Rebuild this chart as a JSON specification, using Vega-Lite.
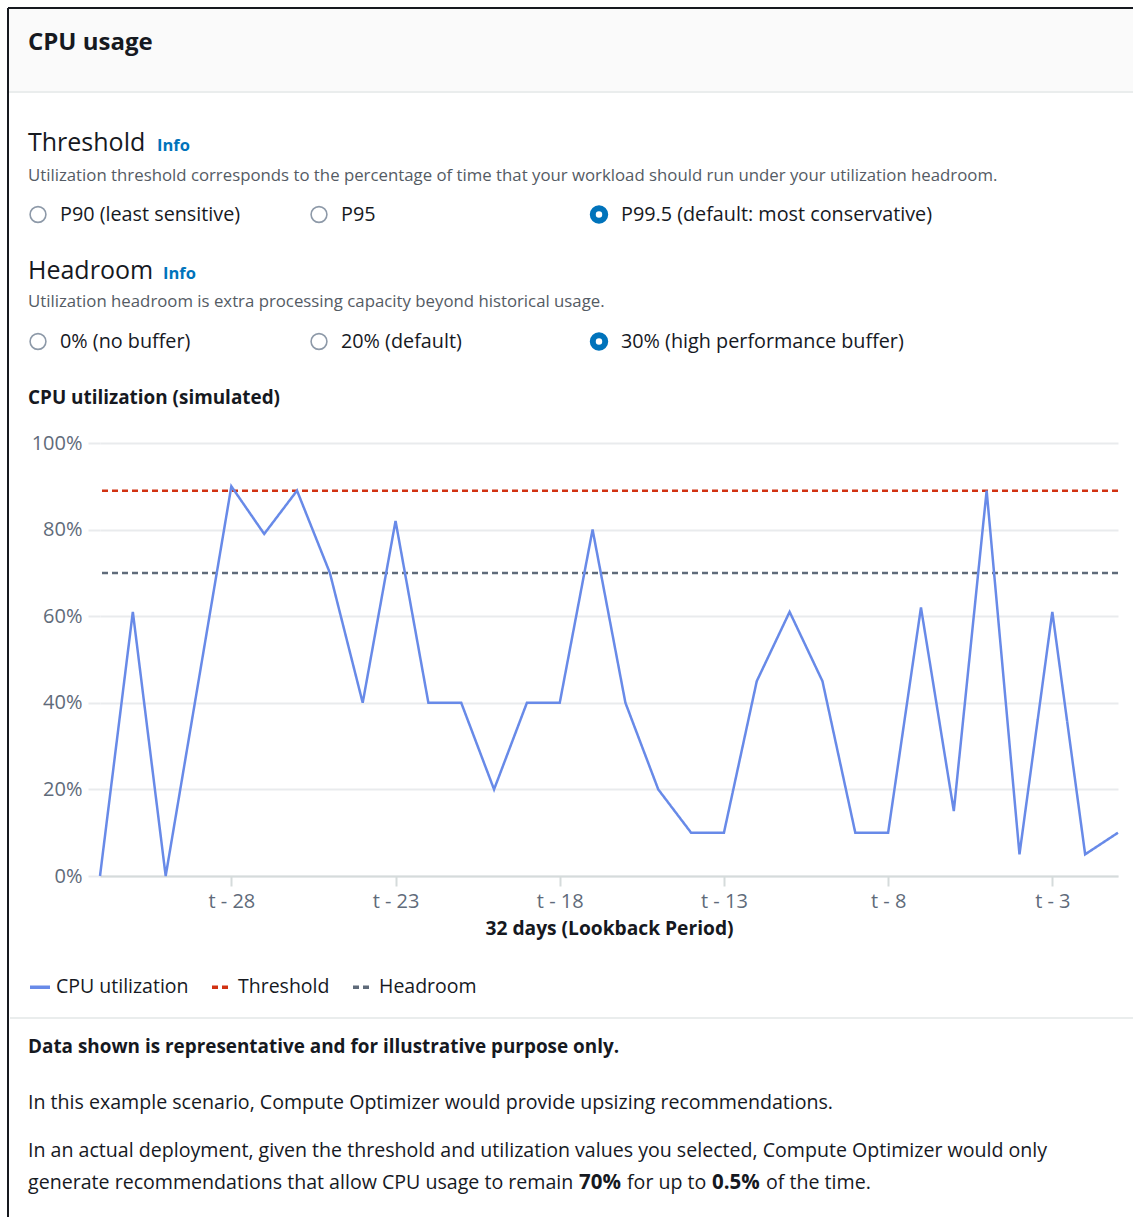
{
  "$schema": "https://vega.github.io/schema/vega-lite/v6.json",
  "width": 1018,
  "height": 433,
  "autosize": "none",
  "padding": {"left": 100, "top": 443, "right": 15, "bottom": 341},
  "background": "white",
  "config": {"view": {"stroke": null}, "font": "Open Sans"},
  "datasets": {
    "cpu": [
      {"day": -32, "cpu": 0, "series": "CPU utilization"},
      {"day": -31, "cpu": 61, "series": "CPU utilization"},
      {"day": -30, "cpu": 0, "series": "CPU utilization"},
      {"day": -29, "cpu": 45, "series": "CPU utilization"},
      {"day": -28, "cpu": 90, "series": "CPU utilization"},
      {"day": -27, "cpu": 79, "series": "CPU utilization"},
      {"day": -26, "cpu": 89, "series": "CPU utilization"},
      {"day": -25, "cpu": 70, "series": "CPU utilization"},
      {"day": -24, "cpu": 40, "series": "CPU utilization"},
      {"day": -23, "cpu": 82, "series": "CPU utilization"},
      {"day": -22, "cpu": 40, "series": "CPU utilization"},
      {"day": -21, "cpu": 40, "series": "CPU utilization"},
      {"day": -20, "cpu": 20, "series": "CPU utilization"},
      {"day": -19, "cpu": 40, "series": "CPU utilization"},
      {"day": -18, "cpu": 40, "series": "CPU utilization"},
      {"day": -17, "cpu": 80, "series": "CPU utilization"},
      {"day": -16, "cpu": 40, "series": "CPU utilization"},
      {"day": -15, "cpu": 20, "series": "CPU utilization"},
      {"day": -14, "cpu": 10, "series": "CPU utilization"},
      {"day": -13, "cpu": 10, "series": "CPU utilization"},
      {"day": -12, "cpu": 45, "series": "CPU utilization"},
      {"day": -11, "cpu": 61, "series": "CPU utilization"},
      {"day": -10, "cpu": 45, "series": "CPU utilization"},
      {"day": -9, "cpu": 10, "series": "CPU utilization"},
      {"day": -8, "cpu": 10, "series": "CPU utilization"},
      {"day": -7, "cpu": 62, "series": "CPU utilization"},
      {"day": -6, "cpu": 15, "series": "CPU utilization"},
      {"day": -5, "cpu": 89, "series": "CPU utilization"},
      {"day": -4, "cpu": 5, "series": "CPU utilization"},
      {"day": -3, "cpu": 61, "series": "CPU utilization"},
      {"day": -2, "cpu": 5, "series": "CPU utilization"},
      {"day": -1, "cpu": 10, "series": "CPU utilization"}
    ],
    "levels": [
      {"series": "Threshold", "value": 89},
      {"series": "Headroom", "value": 70}
    ],
    "chrome": [
      {"kind": "headerbg", "col": 0, "col2": 5, "line": 0, "line2": 1},
      {"kind": "sep", "col": 0, "col2": 5, "line": 1, "line2": 1},
      {"kind": "sep", "col": 12, "col2": 5, "line": 10, "line2": 10},
      {"kind": "frame", "col": 0, "col2": 5, "line": 0, "line2": 0},
      {"kind": "frame", "col": 0, "col2": 0, "line": 0, "line2": 15}
    ],
    "radios": [
      {"text": "P90 (least sensitive)", "col": 2, "line": 5, "selected": "no"},
      {"text": "P95", "col": 3, "line": 5, "selected": "no"},
      {"text": "P99.5 (default: most conservative)", "col": 4, "line": 5, "selected": "yes"},
      {"text": "0% (no buffer)", "col": 2, "line": 8, "selected": "no"},
      {"text": "20% (default)", "col": 3, "line": 8, "selected": "no"},
      {"text": "30% (high performance buffer)", "col": 4, "line": 8, "selected": "yes"}
    ],
    "texts": [
      {"text": "CPU usage", "role": "title", "col": 1, "line": 2},
      {"text": "Threshold", "role": "heading", "col": 1, "line": 3},
      {"text": "Info", "role": "info", "col": 6, "line": 3},
      {"text": "Utilization threshold corresponds to the percentage of time that your workload should run under your utilization headroom.", "role": "desc", "col": 1, "line": 4},
      {"text": "Headroom", "role": "heading", "col": 1, "line": 6},
      {"text": "Info", "role": "info", "col": 7, "line": 6},
      {"text": "Utilization headroom is extra processing capacity beyond historical usage.", "role": "desc", "col": 1, "line": 7},
      {"text": "CPU utilization (simulated)", "role": "subtitle", "col": 1, "line": 9},
      {"text": "Data shown is representative and for illustrative purpose only.", "role": "subtitle", "col": 1, "line": 11},
      {"text": "In this example scenario, Compute Optimizer would provide upsizing recommendations.", "role": "note", "col": 1, "line": 12},
      {"text": "In an actual deployment, given the threshold and utilization values you selected, Compute Optimizer would only", "role": "note", "col": 1, "line": 13},
      {"text": "generate recommendations that allow CPU usage to remain", "role": "note", "col": 1, "line": 14},
      {"text": "70%", "role": "strong", "col": 8, "line": 14},
      {"text": "for up to", "role": "note", "col": 9, "line": 14},
      {"text": "0.5%", "role": "strong", "col": 10, "line": 14},
      {"text": "of the time.", "role": "note", "col": 11, "line": 14}
    ]
  },
  "layer": [
    {
      "layer": [
        {
          "data": {"name": "chrome"},
          "transform": [{"filter": "datum.kind == 'headerbg'"}],
          "mark": {"type": "rect", "color": "#fafafa"},
          "encoding": {
            "x": {"field": "col", "type": "quantitative", "axis": null, "scale": {"domain": [0,1,2,3,4,5,6,7,8,9,10,11,12], "range": [-92,-72,-62,219,499,1033,57,63,479,527,612,666,-90], "zero": false, "nice": false}},
            "x2": {"field": "col2"},
            "y": {"field": "line", "type": "quantitative", "axis": null, "scale": {"domain": [0,1,2,3,4,5,6,7,8,9,10,11,12,13,14,15], "range": [-435,-351,-393,-292,-262.5,-228.5,-164,-136.5,-101.5,-39,575,610,666,714,746,774], "zero": false, "nice": false}},
            "y2": {"field": "line2"}
          }
        },
        {
          "data": {"name": "chrome"},
          "transform": [{"filter": "datum.kind == 'sep'"}],
          "mark": {"type": "rule", "color": "#eaeded", "strokeWidth": 2},
          "encoding": {
            "x": {"field": "col", "type": "quantitative", "axis": null},
            "x2": {"field": "col2"},
            "y": {"field": "line", "type": "quantitative", "axis": null},
            "y2": {"field": "line2"}
          }
        },
        {
          "data": {"name": "chrome"},
          "transform": [{"filter": "datum.kind == 'frame'"}],
          "mark": {"type": "rule", "color": "#16191f", "strokeWidth": 2},
          "encoding": {
            "x": {"field": "col", "type": "quantitative", "axis": null},
            "x2": {"field": "col2"},
            "y": {"field": "line", "type": "quantitative", "axis": null},
            "y2": {"field": "line2"}
          }
        },
        {
          "data": {"name": "radios"},
          "transform": [{"filter": "datum.selected == 'no'"}],
          "mark": {"type": "point", "shape": "circle", "filled": false, "fill": "white", "stroke": "#8d99a8", "strokeWidth": 1.6, "size": 250, "opacity": 1},
          "encoding": {
            "x": {"field": "col", "type": "quantitative", "axis": null},
            "y": {"field": "line", "type": "quantitative", "axis": null}
          }
        },
        {
          "data": {"name": "radios"},
          "transform": [{"filter": "datum.selected == 'yes'"}],
          "mark": {"type": "point", "shape": "circle", "filled": false, "fill": "white", "stroke": "#0073bb", "strokeWidth": 6, "size": 155, "opacity": 1},
          "encoding": {
            "x": {"field": "col", "type": "quantitative", "axis": null},
            "y": {"field": "line", "type": "quantitative", "axis": null}
          }
        },
        {
          "data": {"name": "radios"},
          "mark": {"type": "text", "align": "left", "baseline": "middle", "dx": 22, "fontSize": 19.8, "color": "#16191f"},
          "encoding": {
            "x": {"field": "col", "type": "quantitative", "axis": null},
            "y": {"field": "line", "type": "quantitative", "axis": null},
            "text": {"field": "text"}
          }
        },
        {
          "data": {"name": "texts"},
          "transform": [{"filter": "datum.role == 'title'"}],
          "mark": {"type": "text", "align": "left", "baseline": "alphabetic", "fontSize": 24, "fontWeight": "bold", "color": "#16191f"},
          "encoding": {
            "x": {"field": "col", "type": "quantitative", "axis": null},
            "y": {"field": "line", "type": "quantitative", "axis": null},
            "text": {"field": "text"}
          }
        },
        {
          "data": {"name": "texts"},
          "transform": [{"filter": "datum.role == 'heading'"}],
          "mark": {"type": "text", "align": "left", "baseline": "alphabetic", "fontSize": 25, "color": "#16191f"},
          "encoding": {
            "x": {"field": "col", "type": "quantitative", "axis": null},
            "y": {"field": "line", "type": "quantitative", "axis": null},
            "text": {"field": "text"}
          }
        },
        {
          "data": {"name": "texts"},
          "transform": [{"filter": "datum.role == 'info'"}],
          "mark": {"type": "text", "align": "left", "baseline": "alphabetic", "fontSize": 16.5, "fontWeight": "bold", "color": "#0073bb"},
          "encoding": {
            "x": {"field": "col", "type": "quantitative", "axis": null},
            "y": {"field": "line", "type": "quantitative", "axis": null},
            "text": {"field": "text"}
          }
        },
        {
          "data": {"name": "texts"},
          "transform": [{"filter": "datum.role == 'desc'"}],
          "mark": {"type": "text", "align": "left", "baseline": "alphabetic", "fontSize": 16.8, "color": "#545b64"},
          "encoding": {
            "x": {"field": "col", "type": "quantitative", "axis": null},
            "y": {"field": "line", "type": "quantitative", "axis": null},
            "text": {"field": "text"}
          }
        },
        {
          "data": {"name": "texts"},
          "transform": [{"filter": "datum.role == 'subtitle'"}],
          "mark": {"type": "text", "align": "left", "baseline": "alphabetic", "fontSize": 18.9, "fontWeight": "bold", "color": "#16191f"},
          "encoding": {
            "x": {"field": "col", "type": "quantitative", "axis": null},
            "y": {"field": "line", "type": "quantitative", "axis": null},
            "text": {"field": "text"}
          }
        },
        {
          "data": {"name": "texts"},
          "transform": [{"filter": "datum.role == 'strong'"}],
          "mark": {"type": "text", "align": "left", "baseline": "alphabetic", "fontSize": 20.5, "fontWeight": "bold", "color": "#16191f"},
          "encoding": {
            "x": {"field": "col", "type": "quantitative", "axis": null},
            "y": {"field": "line", "type": "quantitative", "axis": null},
            "text": {"field": "text"}
          }
        },
        {
          "data": {"name": "texts"},
          "transform": [{"filter": "datum.role == 'note'"}],
          "mark": {"type": "text", "align": "left", "baseline": "alphabetic", "fontSize": 19.6, "color": "#16191f"},
          "encoding": {
            "x": {"field": "col", "type": "quantitative", "axis": null},
            "y": {"field": "line", "type": "quantitative", "axis": null},
            "text": {"field": "text"}
          }
        }
      ]
    },
    {
      "layer": [
        {
          "data": {"name": "levels"},
          "mark": {"type": "rule", "strokeWidth": 2.5},
          "encoding": {
            "y": {"field": "value", "type": "quantitative", "scale": {"domain": [0, 100], "nice": false},
              "axis": {"title": null, "values": [0, 20, 40, 60, 80, 100], "labelExpr": "datum.value + '%'", "domain": false, "grid": true, "gridColor": "#e9ebed", "gridWidth": 2, "tickSize": 12, "tickColor": "#e9ebed", "tickWidth": 2, "labelPadding": 6, "labelFontSize": 20, "labelColor": "#5f6b7a", "labelFont": "Open Sans"}},
            "color": {"field": "series", "type": "nominal", "scale": {"domain": ["CPU utilization", "Threshold", "Headroom"], "range": ["#688ae8", "#d13212", "#5f6b7a"]},
              "legend": {"title": null, "orient": "none", "legendX": -72, "legendY": 532, "direction": "horizontal", "symbolType": "stroke", "symbolSize": 400, "symbolStrokeWidth": 3.5, "labelFontSize": 19.5, "labelColor": "#16191f", "labelFont": "Open Sans", "labelOffset": 4, "columnPadding": 16, "labelLimit": 300}},
            "strokeDash": {"field": "series", "type": "nominal", "scale": {"domain": ["CPU utilization", "Threshold", "Headroom"], "range": [[1, 0], [6, 4], [6, 4]]},
              "legend": {"title": null, "orient": "none", "legendX": -72, "legendY": 532, "direction": "horizontal", "symbolType": "stroke", "symbolSize": 400, "symbolStrokeWidth": 3.5, "labelFontSize": 19.5, "labelColor": "#16191f", "labelFont": "Open Sans", "labelOffset": 4, "columnPadding": 16, "labelLimit": 300}}
          }
        },
        {
          "data": {"name": "cpu"},
          "mark": {"type": "line", "strokeWidth": 2.5, "strokeJoin": "miter"},
          "encoding": {
            "x": {"field": "day", "type": "quantitative", "scale": {"domain": [-32, -1], "nice": false, "zero": false},
              "axis": {"title": "32 days (Lookback Period)", "values": [-28, -23, -18, -13, -8, -3], "labelExpr": "'t - ' + (-datum.value)", "grid": false, "domain": true, "domainColor": "#d5dbdb", "domainWidth": 2, "tickSize": 10, "tickColor": "#d5dbdb", "tickWidth": 2, "labelPadding": 5, "labelFontSize": 20, "labelColor": "#5f6b7a", "labelFont": "Open Sans", "titleFont": "Open Sans", "titleFontSize": 19.2, "titleFontWeight": "bold", "titleColor": "#16191f", "titlePadding": 8}},
            "y": {"field": "cpu", "type": "quantitative"},
            "color": {"field": "series", "type": "nominal"},
            "strokeDash": {"field": "series", "type": "nominal"}
          }
        }
      ]
    }
  ],
  "resolve": {"scale": {"x": "independent", "y": "independent"}, "axis": {"x": "independent", "y": "independent"}}
}
